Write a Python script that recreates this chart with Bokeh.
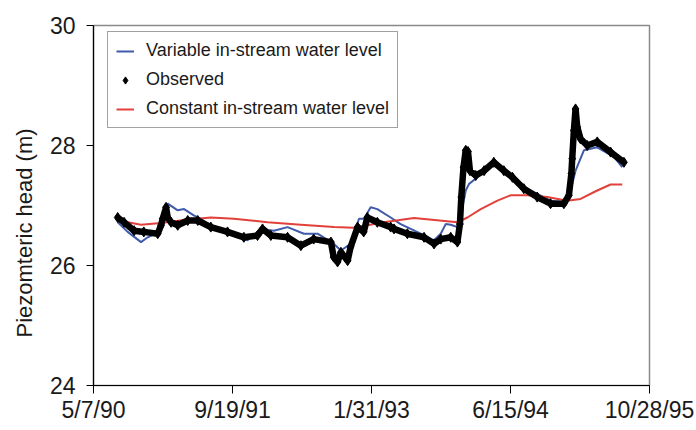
import math
from bokeh.plotting import figure
from bokeh.models import FixedTicker, Range1d, Legend, LegendItem, Title
from bokeh.embed import file_html
from bokeh.resources import INLINE

# x values: days since 5/7/90 (axis is labelled with dates every 500 days)
x_tick_days = [0, 500, 1000, 1500, 2000]
x_tick_labels = ["5/7/90", "9/19/91", "1/31/93", "6/15/94", "10/28/95"]
y_ticks = [24, 26, 28, 30]

obs_day = [87, 110, 146, 181, 231, 243, 249, 261, 267, 279, 303, 339, 375, 422,
           482, 541, 590, 608, 638, 698, 746, 792, 854, 864, 878, 890, 914, 925,
           950, 972, 985, 1021, 1069, 1081, 1129, 1189, 1225, 1249, 1285, 1309,
           1318, 1323, 1331, 1339, 1347, 1354, 1375, 1405, 1440, 1476, 1507,
           1548, 1596, 1644, 1692, 1710, 1719, 1722, 1728, 1734, 1740, 1752,
           1776, 1812, 1860, 1908]
obs_head = [26.80, 26.72, 26.58, 26.56, 26.53, 26.67, 26.78, 26.97, 26.80, 26.72,
            26.67, 26.75, 26.75, 26.64, 26.56, 26.47, 26.50, 26.61, 26.50, 26.47,
            26.33, 26.44, 26.39, 26.14, 26.06, 26.22, 26.08, 26.31, 26.64, 26.56,
            26.80, 26.72, 26.64, 26.61, 26.53, 26.47, 26.36, 26.44, 26.47, 26.39,
            26.69, 27.14, 27.64, 27.92, 27.90, 27.58, 27.50, 27.58, 27.72, 27.58,
            27.47, 27.28, 27.14, 27.03, 27.03, 27.17, 27.53, 27.78, 28.25, 28.61,
            28.31, 28.11, 28.00, 28.06, 27.89, 27.72]

var_day = [87, 123, 171, 195, 237, 249, 267, 303, 326, 362, 386, 422, 506, 554,
           602, 649, 698, 757, 806, 865, 890, 925, 955, 973, 997, 1021, 1069,
           1105, 1177, 1225, 1249, 1267, 1285, 1309, 1321, 1339, 1351, 1381,
           1440, 1512, 1572, 1644, 1692, 1716, 1734, 1764, 1812, 1872, 1902]
var_head = [26.72, 26.56, 26.39, 26.47, 26.56, 26.83, 27.03, 26.92, 26.94, 26.83,
            26.78, 26.64, 26.50, 26.42, 26.61, 26.58, 26.64, 26.53, 26.53, 26.36,
            26.25, 26.36, 26.78, 26.78, 26.97, 26.94, 26.80, 26.69, 26.53, 26.42,
            26.53, 26.69, 26.68, 26.64, 26.83, 27.25, 27.36, 27.47, 27.72, 27.42,
            27.25, 27.08, 27.06, 27.25, 27.58, 27.92, 27.97, 27.81, 27.64]

const_day = [87, 123, 171, 243, 326, 422, 505, 626, 746, 865, 936, 985, 1044,
             1153, 1309, 1345, 1393, 1453, 1500, 1560, 1632, 1704, 1752, 1812,
             1860, 1902]
const_head = [26.74, 26.72, 26.68, 26.71, 26.76, 26.80, 26.78, 26.72, 26.68, 26.64,
              26.63, 26.67, 26.72, 26.79, 26.72, 26.80, 26.94, 27.08, 27.17, 27.17,
              27.14, 27.08, 27.11, 27.25, 27.35, 27.35]

FONT = "Liberation Sans"

p = figure(width=696, height=430, output_backend="svg", toolbar_location=None,
           x_range=Range1d(0, 2000), y_range=Range1d(24, 30),
           min_border_left=92, min_border_right=47, min_border_top=25,
           min_border_bottom=45)
p.grid.visible = False
p.outline_line_color = "#8a8a8a"
p.outline_line_width = 1.5
p.background_fill_color = "white"
p.border_fill_color = "white"

r_var = p.line(var_day, var_head, line_color="#3f5ba9", line_width=2)
r_const = p.line(const_day, const_head, line_color="#e2403a", line_width=2)
p.line(obs_day, obs_head, line_color="black", line_width=6.5)
r_obs = p.scatter(obs_day, obs_head, marker="diamond", size=10,
                  fill_color="black", line_color="black")

p.xaxis.ticker = FixedTicker(ticks=x_tick_days)
p.xaxis.major_label_overrides = {d: s for d, s in zip(x_tick_days, x_tick_labels)}
p.yaxis.ticker = FixedTicker(ticks=y_ticks)
for ax in (p.xaxis, p.yaxis):
    ax.axis_line_color = "black"
    ax.axis_line_width = 1.2
    ax.major_tick_line_color = "black"
    ax.major_tick_in = 0
    ax.minor_tick_line_color = None
    ax.major_label_text_font = FONT
    ax.major_label_text_color = "#1a1a1a"
p.xaxis.major_tick_out = 8
p.xaxis.major_label_text_font_size = "23px"
p.xaxis.major_label_standoff = 3
p.yaxis.major_tick_out = 7
p.yaxis.major_label_text_font_size = "23px"
p.yaxis.major_label_standoff = 11

p.add_layout(Title(text="Piezomteric head (m)", align="left", offset=48,
                   standoff=19,
                   text_font=FONT, text_font_size="22px", text_font_style="normal",
                   text_color="#1a1a1a"), "left")

legend = Legend(items=[
    LegendItem(label="Variable in-stream water level", renderers=[r_var]),
    LegendItem(label="Observed", renderers=[r_obs]),
    LegendItem(label="Constant in-stream water level", renderers=[r_const]),
], location=(14, 257))
legend.border_line_color = "#444444"
legend.border_line_width = 1.2
legend.label_text_font = FONT
legend.label_text_font_size = "18px"
legend.label_text_color = "#1a1a1a"
legend.glyph_width = 18
legend.glyph_height = 20
legend.label_height = 20
legend.spacing = 8
legend.padding = 8
legend.label_standoff = 12
legend.margin = 0
p.add_layout(legend)

open("out.html", "w").write(file_html(p, INLINE))
